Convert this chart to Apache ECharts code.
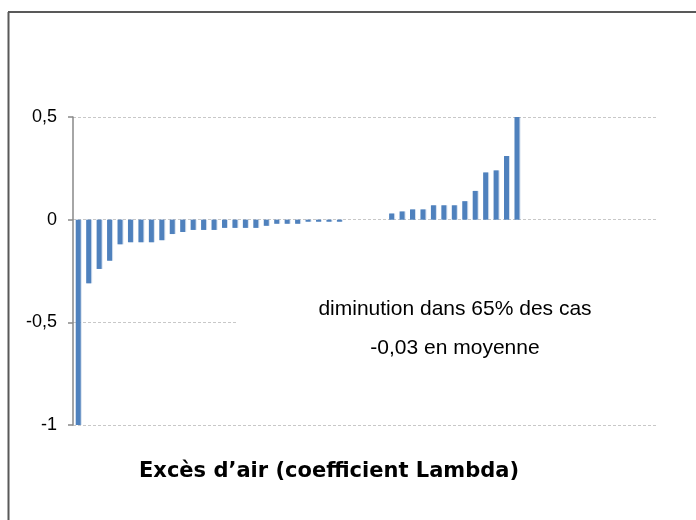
<!DOCTYPE html>
<html>
<head>
<meta charset="utf-8">
<script src="https://cdn.jsdelivr.net/npm/echarts@6/dist/echarts.min.js"></script>
<style>
  html, body { margin: 0; padding: 0; background: #fff; }
  #chart { width: 696px; height: 520px; }
</style>
</head>
<body>
<div id="chart"></div>
<script>
// one bar per case, sorted; trailing slots are empty
const cases = ['1','2','3','4','5','6','7','8','9','10','11','12','13','14','15','16','17','18','19','20',
  '21','22','23','24','25','26','27','28','29','30','31','32','33','34','35','36','37','38','39','40',
  '41','42','43','44','45','46','47','48','49','50','51','52','53','54','55','56'];
const deltaLambda = [
  -1.00, -0.31, -0.24, -0.20, -0.12, -0.11, -0.11, -0.11, -0.10, -0.07,
  -0.06, -0.05, -0.05, -0.05, -0.04, -0.04, -0.04, -0.04, -0.03, -0.02,
  -0.02, -0.02, -0.01, -0.01, -0.01, -0.01, 0, 0, 0, 0,
  0.03, 0.04, 0.05, 0.05, 0.07, 0.07, 0.07, 0.09, 0.14, 0.23,
  0.24, 0.31, 0.50, null, null, null, null, null, null, null,
  null, null, null, null, null, null
];
const yTicks = { min: -1, max: 0.5, step: 0.5 };
const titleText = 'Excès d\u2019air (coefficient Lambda)';
const noteLines = ['diminution dans 65% des cas', '-0,03 en moyenne'];

const chart = echarts.init(document.getElementById('chart'));

const option = {
  animation: false,
  backgroundColor: '#fff',
  grid: { left: 73, right: 38, top: 117, bottom: 95, containLabel: false },
  xAxis: {
    type: 'category',
    data: cases,
    axisLine: { show: false },
    axisTick: { show: false },
    axisLabel: { show: false },
    splitLine: { show: false }
  },
  yAxis: {
    type: 'value',
    min: yTicks.min,
    max: yTicks.max,
    interval: yTicks.step,
    axisLine: { show: true, lineStyle: { color: '#898989', width: 1.5 } },
    axisTick: { show: true, length: 5, lineStyle: { color: '#898989', width: 1.5 } },
    axisLabel: {
      margin: 16,
      color: '#000',
      fontFamily: 'Liberation Sans, Arial, sans-serif',
      fontSize: 18,
      formatter: v => String(v).replace('.', ',')
    },
    splitLine: { show: true, lineStyle: { color: '#c8c8c8', type: [3, 2], width: 1 } }
  },
  series: [{
    type: 'bar',
    data: deltaLambda,
    barWidth: 5,
    itemStyle: {
      color: '#4f81bd',
      shadowColor: 'rgba(79,129,189,0.25)',
      shadowOffsetX: 1
    }
  }],
  graphic: [
    // white text box hides part of the -0,5 gridline
    { type: 'rect', left: 236, top: 285, shape: { width: 430, height: 90 }, style: { fill: '#fff' }, z: 10 },
    { type: 'text', x: 455, y: 309, z: 11,
      style: { text: noteLines[0], fill: '#000', font: '21px "Liberation Sans", Arial, sans-serif', align: 'center', verticalAlign: 'middle' } },
    { type: 'text', x: 455, y: 348, z: 11,
      style: { text: noteLines[1], fill: '#000', font: '21px "Liberation Sans", Arial, sans-serif', align: 'center', verticalAlign: 'middle' } },
    { type: 'text', x: 329, y: 472, z: 11,
      style: { text: titleText, fill: '#000', font: 'bold 21px "DejaVu Sans", Verdana, sans-serif', align: 'center', verticalAlign: 'middle' } },
    // chart frame (top and left edges visible)
    { type: 'line', z: 12, shape: { x1: 8, y1: 12, x2: 696, y2: 12 }, style: { stroke: '#595959', lineWidth: 2 } },
    { type: 'line', z: 12, shape: { x1: 8.5, y1: 12, x2: 8.5, y2: 520 }, style: { stroke: '#595959', lineWidth: 2 } }
  ]
};

chart.setOption(option);
window.addEventListener('resize', function () {
  chart.resize();
});
</script>
</body>
</html>
